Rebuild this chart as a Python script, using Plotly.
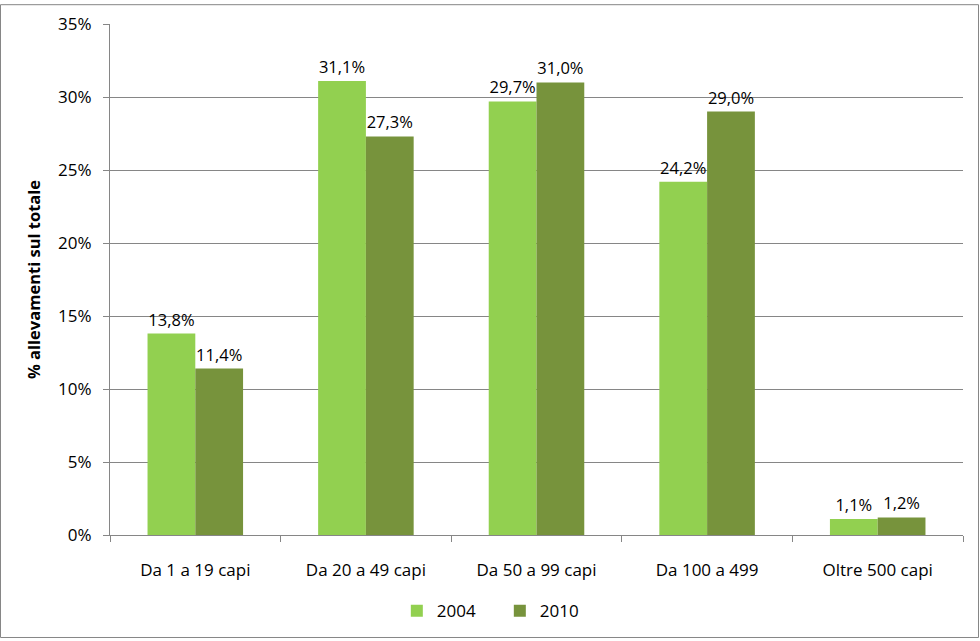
import plotly.graph_objects as go

categories = ["Da 1 a 19 capi", "Da 20 a 49 capi", "Da 50 a 99 capi", "Da 100 a 499", "Oltre 500 capi"]
values_2004 = [13.8, 31.1, 29.7, 24.2, 1.1]
values_2010 = [11.4, 27.3, 31.0, 29.0, 1.2]
y_ticks = [0, 5, 10, 15, 20, 25, 30, 35]

FONT = "Open Sans"
W, H = 980, 641
L, R, T, B = 110, 17, 20, 105

fig = go.Figure()
for name, vals, col in [("2004", values_2004, "#92D050"), ("2010", values_2010, "#77933C")]:
    fig.add_trace(go.Bar(x=categories, y=vals, name=name, marker_color=col,
                         marker_line_width=0,
                         texttemplate="%{y:.1f}%", textposition="outside", cliponaxis=False,
                         constraintext="none",
                         textfont=dict(family=FONT, size=16.5, color="#000000")))

pw = W - L - R
ph = H - T - B
fig.update_layout(
    width=W, height=H,
    margin=dict(l=L, r=R, t=T, b=B),
    paper_bgcolor="white", plot_bgcolor="white",
    separators=",.",
    barmode="group", bargap=0.44, bargroupgap=0,
    font=dict(family=FONT, size=17, color="#000000"),
    xaxis=dict(showline=True, linecolor="#868686", linewidth=1, ticks="outside",
               tickson="boundaries", ticklen=6, tickcolor="#868686",
               ticklabelstandoff=20,
               tickfont=dict(family=FONT, size=17)),
    yaxis=dict(range=[0, 35], tickvals=y_ticks, ticktext=[f"{v}%" for v in y_ticks],
               showgrid=True, gridcolor="#868686", gridwidth=1,
               showline=True, linecolor="#868686", ticks="outside", ticklen=6,
               tickcolor="#868686", zeroline=False, ticklabelstandoff=8,
               tickfont=dict(family=FONT, size=17),
               title=dict(text="<b>% allevamenti sul totale</b>", font=dict(family=FONT, size=16.5),
                          standoff=13)),
    legend=dict(orientation="h", x=0.457, xanchor="center", y=-(613 - 536) / ph, yanchor="middle",
                font=dict(family=FONT, size=17), itemwidth=30, traceorder="normal",
                entrywidth=58, entrywidthmode="pixels"),
    shapes=[dict(type="rect", xref="paper", yref="paper",
                 x0=-(L - 0.5) / pw, x1=1 + (R - 1.5) / pw,
                 y0=-(B - 1.5) / ph, y1=1 + (T - 0.5) / ph,
                 line=dict(color="#868686", width=1), fillcolor="rgba(0,0,0,0)")],
)

fig.write_html("out.html")
